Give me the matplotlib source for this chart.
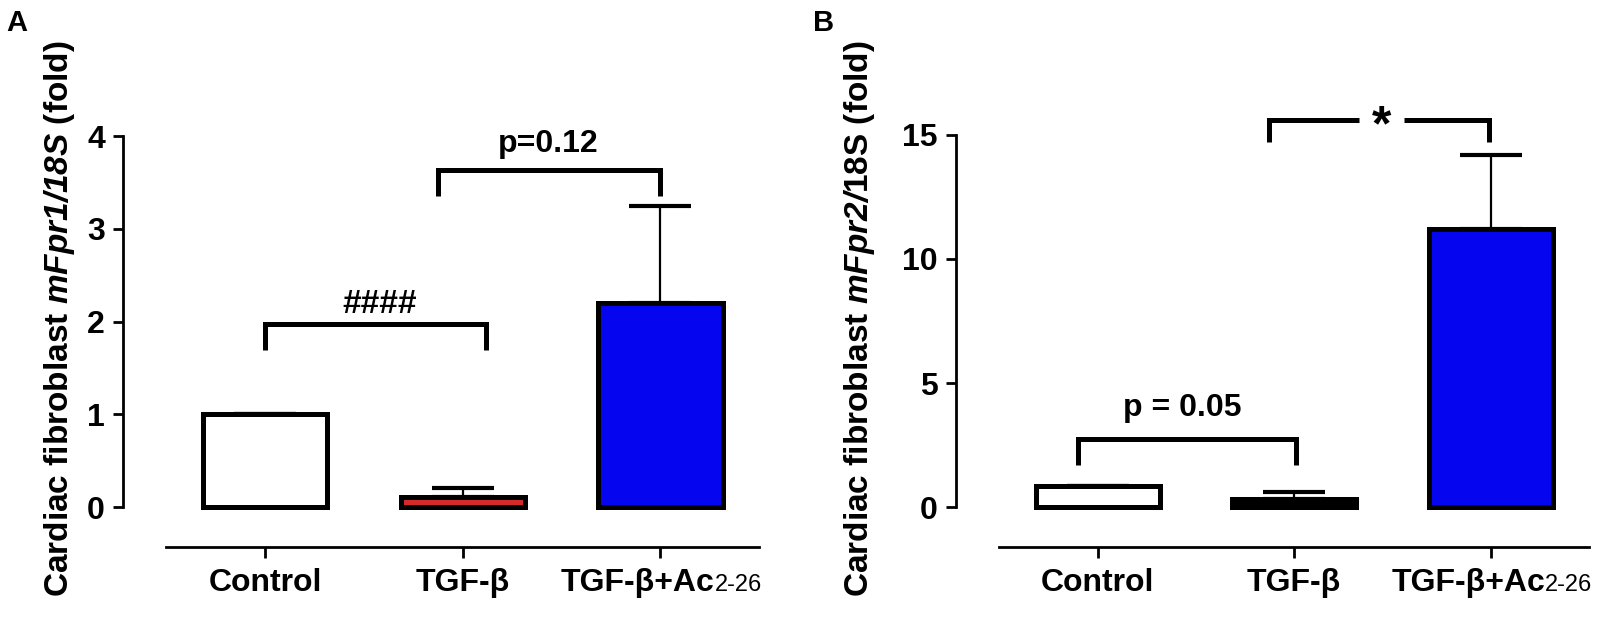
import numpy as np
import matplotlib.pyplot as plt
import matplotlib.transforms as mtransforms

plt.rcParams['font.family'] = ['Liberation Sans', 'DejaVu Sans']
plt.rcParams['font.weight'] = 'bold'
# math text is only used for the italic gene names in the y labels
plt.rcParams['mathtext.fontset'] = 'custom'
plt.rcParams['mathtext.rm'] = 'Liberation Sans:bold:italic'
plt.rcParams['mathtext.it'] = 'Liberation Sans:bold:italic'

# data
groups = ['Control', 'TGF-β', 'TGF-β+Ac']
fpr1_mean = [1.0, 0.105, 2.2]
fpr1_err = [0.0, 0.105, 1.05]
fpr2_mean = [0.85, 0.35, 11.2]
fpr2_err = [0.0, 0.27, 3.0]

colors_a = ['white', '#d42a2a', '#0505f0']
colors_b = ['white', 'black', '#0505f0']

BAR_LW = 3.6


def draw_panel(ax, mean, err, colors, ylim, yticks, ylabel, label_x):
    x = np.arange(len(groups))
    ax.errorbar(x, mean, yerr=[np.zeros(len(err)), err], fmt='none',
                ecolor='black', elinewidth=1.6, capsize=22, capthick=3, zorder=1)
    ax.bar(x, mean, width=0.63, color=colors, edgecolor='black',
           linewidth=BAR_LW, zorder=2)

    ax.set_xlim(-0.72, 2.55)
    ax.set_ylim(*ylim)
    ax.set_yticks(yticks)
    ax.set_xticks(x)
    ax.set_xticklabels(groups[:2] + [''], fontsize=23)
    ax.tick_params(axis='y', labelsize=23, width=2, length=7, pad=6)
    ax.tick_params(axis='x', width=2, length=8, pad=7)

    for s in ['top', 'right']:
        ax.spines[s].set_visible(False)
    ax.spines['left'].set_linewidth(2)
    ax.spines['bottom'].set_linewidth(2)
    ax.spines['left'].set_bounds(yticks[0], yticks[-1])
    ax.spines['bottom'].set_bounds(-0.5, 2.5)

    # third label: big bold part + small "2-26"
    off = mtransforms.ScaledTranslation(0, -32 / 72, ax.figure.dpi_scale_trans)
    tr = ax.get_xaxis_transform() + off
    ax.text(2.275, 0, 'TGF-β+Ac', transform=tr, ha='right', va='baseline',
            fontsize=23, fontweight='bold')
    ax.text(2.275, 0, '2-26', transform=tr, ha='left', va='baseline',
            fontsize=17, fontweight='normal')

    ax.set_ylabel(ylabel, fontsize=24, fontweight='bold')
    ax.yaxis.set_label_coords(label_x, 0.51)


def bracket(ax, x1, x2, ytop, ybot, gap=None):
    kw = dict(color='black', lw=3.6, solid_capstyle='butt', solid_joinstyle='miter', zorder=3)
    if gap is None:
        ax.plot([x1, x1, x2, x2], [ybot, ytop, ytop, ybot], **kw)
    else:
        ax.plot([x1, x1, gap[0]], [ybot, ytop, ytop], **kw)
        ax.plot([gap[1], x2, x2], [ytop, ytop, ybot], **kw)


fig = plt.figure(figsize=(16, 6.32), dpi=100)
ax1 = fig.add_axes([0.0769, 0.1345, 0.4037, 0.7073])
ax2 = fig.add_axes([0.5975, 0.1345, 0.4019, 0.7073])

draw_panel(ax1, fpr1_mean, fpr1_err, colors_a, (-0.43, 4.39), [0, 1, 2, 3, 4],
           r'Cardiac fibroblast $\mathrm{mFpr1/18S}$ (fold)', -0.071)
draw_panel(ax2, fpr2_mean, fpr2_err, colors_b, (-1.6, 16.4), [0, 5, 10, 15],
           r'Cardiac fibroblast $\mathrm{mFpr2/}$18S (fold)', -0.123)

# panel A annotations
bracket(ax1, 0.0, 1.12, 1.97, 1.69)
ax1.text(0.58, 2.18, '####', ha='center', va='center', fontsize=24)
bracket(ax1, 0.876, 2.0, 3.63, 3.36)
ax1.text(1.43, 3.92, 'p=0.12', ha='center', va='center', fontsize=23)

# panel B annotations
bracket(ax2, -0.1, 1.01, 2.73, 1.7)
ax2.text(0.43, 4.0, 'p = 0.05', ha='center', va='center', fontsize=23)
bracket(ax2, 0.87, 1.99, 15.6, 14.7, gap=(1.33, 1.56))
ax2.text(1.445, 15.3, '*', ha='center', va='center', fontsize=36)

fig.text(0.004, 0.985, 'A', fontsize=21, fontweight='bold', va='top')
fig.text(0.508, 0.985, 'B', fontsize=21, fontweight='bold', va='top')

fig.savefig('out.png', dpi=100)
